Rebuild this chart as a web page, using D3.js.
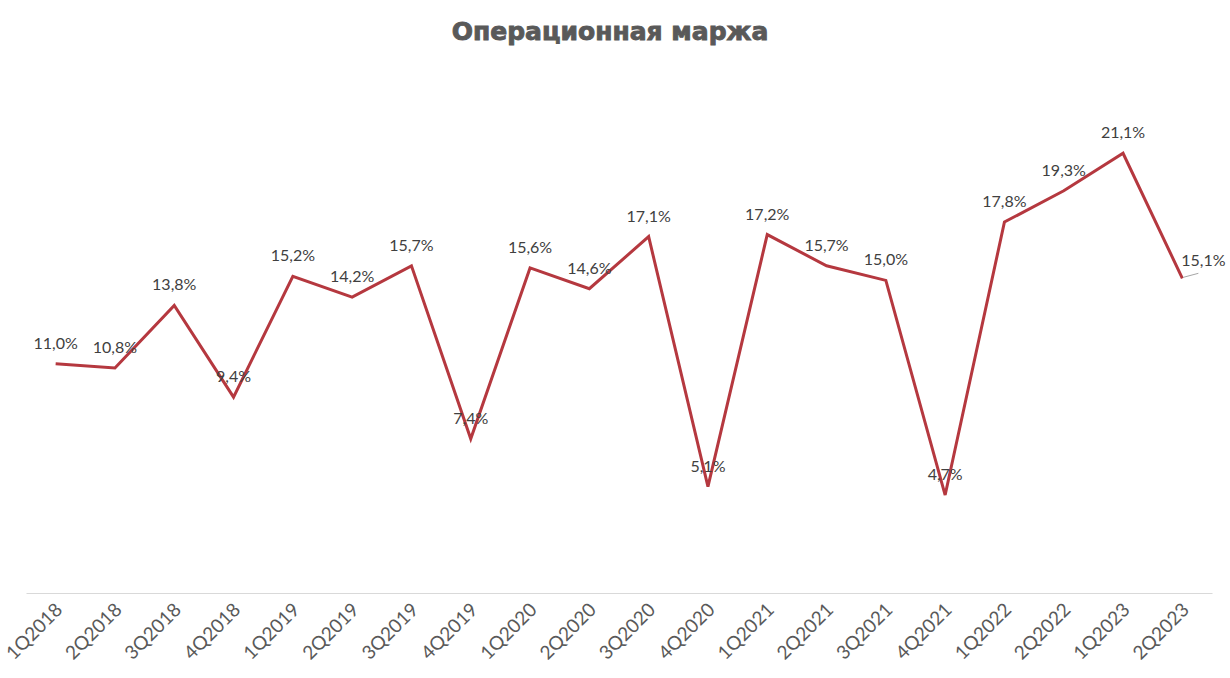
<!DOCTYPE html>
<html><head><meta charset="utf-8">
<script src="https://cdn.jsdelivr.net/npm/d3@7"></script>
<style>body{margin:0;background:#fff}svg{display:block}</style>
</head><body>
<script>
const categories = ["1Q2018","2Q2018","3Q2018","4Q2018","1Q2019","2Q2019","3Q2019","4Q2019","1Q2020","2Q2020","3Q2020","4Q2020","1Q2021","2Q2021","3Q2021","4Q2021","1Q2022","2Q2022","1Q2023","2Q2023"];
const values = [11.0,10.8,13.8,9.4,15.2,14.2,15.7,7.4,15.6,14.6,17.1,5.1,17.2,15.7,15.0,4.7,17.8,19.3,21.1,15.1];
const labels = values.map(v => v.toFixed(1).replace(".", ",") + "%");
const title = "Операционная маржа";

const W = 1230, H = 678;
const margin = {left: 26, right: 18, top: 72, bottom: 85};
const svg = d3.select("body").append("svg").attr("width", W).attr("height", H);

const x = d3.scaleBand().domain(categories).range([margin.left, W - margin.right]);
const y = d3.scaleLinear().domain([0, 25]).range([H - margin.bottom, margin.top]);

svg.append("text").attr("x", 610).attr("y", 40).attr("text-anchor", "middle")
  .attr("font-family", "'DejaVu Sans', sans-serif").attr("font-weight", "bold")
  .attr("font-size", 25).attr("fill", "#595959")
  .attr("stroke", "#595959").attr("stroke-width", 0.9).text(title);

const axis = svg.append("g").attr("transform", `translate(0,${y(0)})`)
  .call(d3.axisBottom(x).tickSize(0).tickPadding(0));
axis.select(".domain").attr("stroke", "#d9d9d9").attr("stroke-width", 1);
axis.selectAll("text")
  .attr("font-family", "Lato, 'Open Sans', sans-serif").attr("font-size", 19)
  .attr("fill", "#595959").attr("text-anchor", "end").attr("dy", 0)
  .attr("transform", "translate(8,18) rotate(-45)");

const cx = d => x(d) + x.bandwidth() / 2;
const line = d3.line().x((d, i) => cx(categories[i])).y(d => y(d));
svg.append("path").datum(values).attr("d", line).attr("fill", "none")
  .attr("stroke", "#B5383F").attr("stroke-width", 3).attr("stroke-linejoin", "miter");

// leader line for last label
const li = values.length - 1;
svg.append("line").attr("x1", cx(categories[li]) + 1).attr("y1", y(values[li]) - 1)
  .attr("x2", cx(categories[li]) + 16).attr("y2", y(values[li]) - 5)
  .attr("stroke", "#a6a6a6").attr("stroke-width", 1);

svg.append("g").selectAll("text").data(values).join("text")
  .attr("x", (d, i) => cx(categories[i]) + (i === li ? 21 : 0))
  .attr("y", (d, i) => y(d) - (i === li ? 12 : 15))
  .attr("text-anchor", "middle")
  .attr("font-family", "Lato, 'Open Sans', sans-serif").attr("font-size", 16)
  .attr("fill", "#404040").text((d, i) => labels[i]);
</script>
</body></html>
